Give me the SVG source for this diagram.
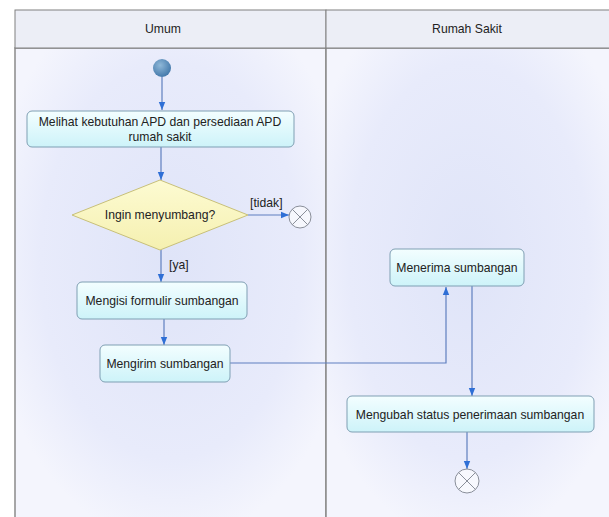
<svg xmlns="http://www.w3.org/2000/svg" width="609" height="517" viewBox="0 0 609 517">
<style>
text{font-family:"Liberation Sans",Arial,sans-serif;font-size:12.2px;fill:#222;}
.act{fill:url(#actg);stroke:#7f9fb3;stroke-width:1;}
.conn{fill:none;stroke:#5f7fbf;stroke-width:1.2;}
.fin{fill:#fff;fill-opacity:0.6;stroke:#8a8f9a;stroke-width:1;}
.x{stroke:#8a8f9a;stroke-width:1;}
.hdr{fill:#eceef6;stroke:#808080;stroke-width:1;}
</style>
<defs>
<linearGradient id="actg" x1="0" y1="0" x2="0" y2="1">
<stop offset="0" stop-color="#f3feff"/>
<stop offset="1" stop-color="#cdf3f9"/>
</linearGradient>
<radialGradient id="laneg" cx="0.5" cy="0.45" r="0.6">
<stop offset="0" stop-color="#dfe4f8"/>
<stop offset="0.7" stop-color="#e8ebfb"/>
<stop offset="1" stop-color="#f4f5fd"/>
</radialGradient>
<radialGradient id="startg" cx="0.4" cy="0.35" r="0.7">
<stop offset="0" stop-color="#8fb8d8"/>
<stop offset="1" stop-color="#3f75a8"/>
</radialGradient>
<linearGradient id="diag" x1="0" y1="0" x2="0" y2="1">
<stop offset="0" stop-color="#fdfbd2"/>
<stop offset="1" stop-color="#f5f0b0"/>
</linearGradient>
<marker id="arr" viewBox="0 0 10 10" refX="10" refY="5" markerWidth="8" markerHeight="10" markerUnits="userSpaceOnUse" orient="auto">
<path d="M0,1 L10,5 L0,9 z" fill="#2f6fd6"/>
</marker>
</defs>
<rect x="0" y="0" width="609" height="517" fill="#ffffff"/>
<g id="lanes">
<rect x="15" y="48" width="311" height="472" fill="url(#laneg)" stroke="#8a8a8a" stroke-width="1.5"/>
<rect x="326" y="48" width="286" height="472" fill="url(#laneg)" stroke="#8a8a8a" stroke-width="1.5"/>
<rect class="hdr" x="15" y="10" width="311" height="38"/>
<rect class="hdr" x="326" y="10" width="286" height="38"/>
<text x="163" y="33" text-anchor="middle">Umum</text>
<text x="467" y="33" text-anchor="middle">Rumah Sakit</text>
</g>
<g id="connectors">
<line class="conn" x1="162" y1="77" x2="162" y2="110" marker-end="url(#arr)"/>
<line class="conn" x1="161" y1="147" x2="161" y2="180" marker-end="url(#arr)"/>
<line class="conn" x1="248" y1="215" x2="289" y2="215" marker-end="url(#arr)"/>
<text x="250" y="207">[tidak]</text>
<line class="conn" x1="161" y1="250" x2="161" y2="282" marker-end="url(#arr)"/>
<text x="169" y="269">[ya]</text>
<line class="conn" x1="164" y1="319" x2="164" y2="345" marker-end="url(#arr)"/>
<polyline class="conn" points="230,363 446,363 446,287" marker-end="url(#arr)"/>
<line class="conn" x1="472" y1="286" x2="472" y2="396" marker-end="url(#arr)"/>
<line class="conn" x1="467" y1="432" x2="467" y2="469" marker-end="url(#arr)"/>
</g>
<g id="start">
<circle cx="162" cy="68" r="9" fill="url(#startg)"/>
</g>
<g id="melihat">
<rect class="act" x="27" y="111" width="267" height="36" rx="5"/>
<text x="160" y="126" text-anchor="middle">Melihat kebutuhan APD dan persediaan APD</text>
<text x="160" y="141" text-anchor="middle">rumah sakit</text>
</g>
<g id="decision">
<polygon points="160,180 248,215 160,250 72,215" fill="url(#diag)" stroke="#c8c07a" stroke-width="1"/>
<text x="160" y="219" text-anchor="middle">Ingin menyumbang?</text>
</g>
<g id="final1">
<circle class="fin" cx="300" cy="217" r="11"/>
<line class="x" x1="292.2" y1="209.2" x2="307.8" y2="224.8"/>
<line class="x" x1="307.8" y1="209.2" x2="292.2" y2="224.8"/>
</g>
<g id="mengisi">
<rect class="act" x="77" y="282" width="170" height="37" rx="5"/>
<text x="162" y="305" text-anchor="middle">Mengisi formulir sumbangan</text>
</g>
<g id="mengirim">
<rect class="act" x="100" y="345" width="130" height="37" rx="5"/>
<text x="165" y="368" text-anchor="middle">Mengirim sumbangan</text>
</g>
<g id="menerima">
<rect class="act" x="390" y="249" width="134" height="37" rx="5"/>
<text x="457" y="272" text-anchor="middle">Menerima sumbangan</text>
</g>
<g id="mengubah">
<rect class="act" x="347" y="396" width="247" height="36" rx="5"/>
<text x="470" y="419" text-anchor="middle">Mengubah status penerimaan sumbangan</text>
</g>
<g id="final2">
<circle class="fin" cx="467" cy="481" r="12"/>
<line class="x" x1="458.5" y1="472.5" x2="475.5" y2="489.5"/>
<line class="x" x1="475.5" y1="472.5" x2="458.5" y2="489.5"/>
</g>
</svg>
